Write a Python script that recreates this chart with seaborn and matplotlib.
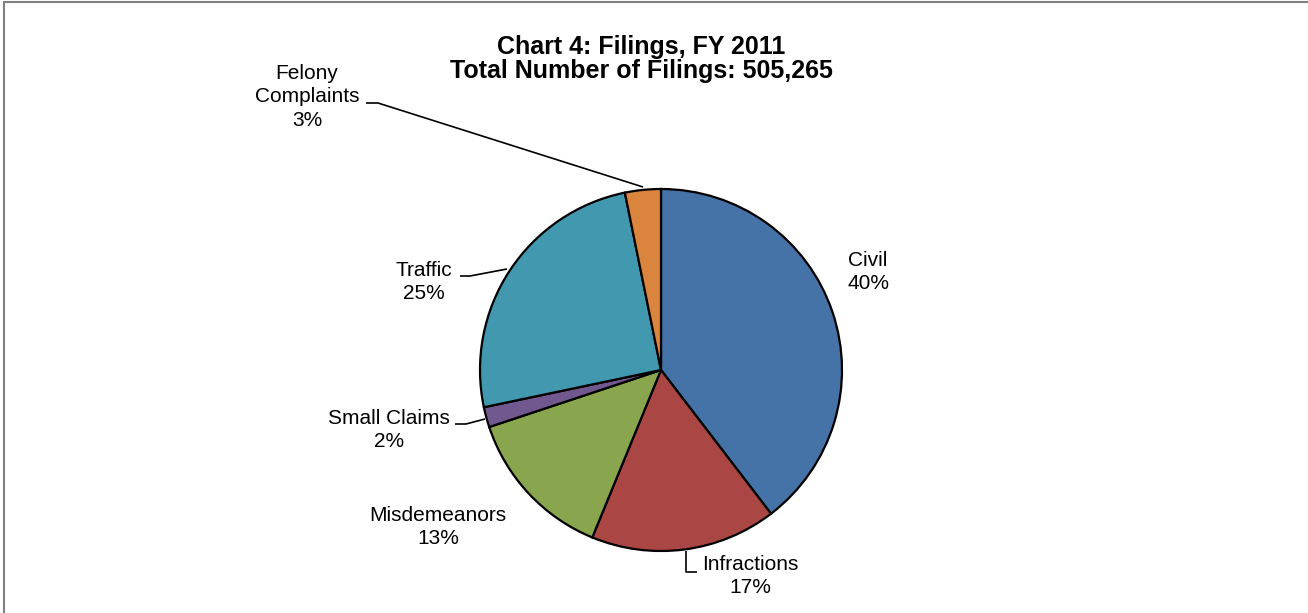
import matplotlib
matplotlib.use("Agg")
import matplotlib.pyplot as plt
import seaborn as sns

# ---- data ----
categories = ["Civil", "Infractions", "Misdemeanors", "Small Claims", "Traffic", "Felony\nComplaints"]
shares = [39.6, 16.6, 13.7, 1.8, 25.1, 3.2]
pct_labels = ["40%", "17%", "13%", "2%", "25%", "3%"]
colors = ["#4572A7", "#AA4643", "#89A54E", "#71588F", "#4198AF", "#DB843D"]
title_lines = ["Chart 4: Filings, FY 2011", "Total Number of Filings: 505,265"]

sns.set_theme(style="white")
plt.rcParams['font.family'] = ['Liberation Sans', 'DejaVu Sans']

W, H = 1308, 613
fig = plt.figure(figsize=(W / 100, H / 100), dpi=100)
ax = fig.add_axes([0, 0, 1, 1])
ax.axis('off')

cx, cy, r = 661, 370, 181
ax.pie(shares, colors=colors, startangle=90, counterclock=False,
       center=(cx, H - cy), radius=r,
       wedgeprops=dict(edgecolor='black', linewidth=1.6))
ax.set_xlim(0, W)
ax.set_ylim(0, H)
ax.set_aspect('equal')

def Y(y):
    return H - y

# labels: (x center, block center y)
label_pos = {
    "Civil": (868, 272),
    "Infractions": (750, 576),
    "Misdemeanors": (438, 527),
    "Small Claims": (389, 430),
    "Traffic": (424, 282),
    "Felony\nComplaints": (307, 97),
}
for cat, pct in zip(categories, pct_labels):
    x, y = label_pos[cat]
    ax.text(x, Y(y), f"{cat}\n{pct}", ha='center', va='center',
            fontsize=15, color='black', linespacing=1.27)

leaders = [
    [(643, 187), (378, 103), (366, 103)],
    [(507, 269), (470, 276), (460, 276)],
    [(485, 419), (466, 424), (455, 424)],
    [(686, 551), (686, 572), (697, 572)],
]
for pts in leaders:
    xs = [p[0] for p in pts]
    ys = [Y(p[1]) for p in pts]
    ax.plot(xs, ys, color='black', lw=1.2, solid_capstyle='butt')

ax.text(641, Y(54), title_lines[0], ha='center', va='baseline', fontsize=18,
        fontweight='bold', color='black')
ax.text(641, Y(78), title_lines[1], ha='center', va='baseline', fontsize=18,
        fontweight='bold', color='black')

# chart frame (left and top edges visible)
ax.plot([4, 4], [Y(2), Y(613)], color='#808080', lw=1.5)
ax.plot([4, 1308], [Y(2), Y(2)], color='#808080', lw=1.5)

fig.savefig("out.png", dpi=100, facecolor='white')
